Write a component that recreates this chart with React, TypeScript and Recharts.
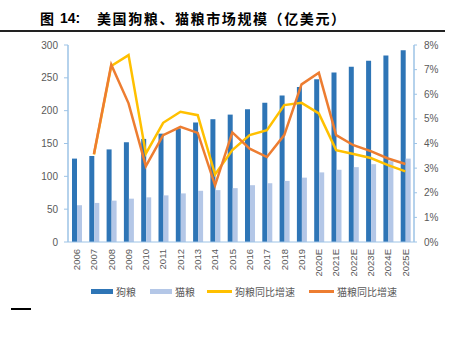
import React from 'react';
import { ComposedChart, Bar, Line, XAxis, YAxis, Legend } from 'recharts';

const years = ['2006','2007','2008','2009','2010','2011','2012','2013','2014','2015','2016','2017','2018','2019','2020E','2021E','2022E','2023E','2024E','2025E'];
const dogFood = [127,131,141,152,157,165,173,182,187,194,202,212,223,236,248,258,267,276,284,292];
const catFood = [56,59.5,63,66,68,71,74,78,79,82,86.5,89.5,93,98,106,110,114,118.5,123,127];
const dogGrowth = [null,3.55,7.15,7.59,3.59,4.84,5.29,5.15,2.74,3.73,4.34,4.54,5.56,5.65,5.22,3.73,3.57,3.41,3.12,2.87];
const catGrowth = [null,3.57,7.2,5.63,3.08,4.34,4.68,4.43,2.3,4.45,3.79,3.45,4.34,6.4,6.87,4.34,3.93,3.69,3.39,3.17];
const leftTicks = [0,50,100,150,200,250,300];
const rightTicks = [0,0.01,0.02,0.03,0.04,0.05,0.06,0.07,0.08];

const data = years.map((y, i) => ({
  year: y,
  dog: dogFood[i],
  cat: catFood[i],
  dogG: dogGrowth[i] == null ? null : (dogGrowth[i] as number) / 100,
  catG: catGrowth[i] == null ? null : (catGrowth[i] as number) / 100,
}));

const AXIS = '#9DC3E6';
const TXT = '#595959';
const FONT = '"Liberation Sans", Arial, sans-serif';
const CJK = '"Noto Sans CJK SC", sans-serif';

const XTick = (props: any) => {
  const { x, y, payload } = props;
  return (
    <text
      transform={`translate(${x},${y + 5}) rotate(-90)`}
      textAnchor="end"
      dy="0.35em"
      fill={TXT}
      fontSize={9.5}
      fontFamily={FONT}
    >
      {payload.value}
    </text>
  );
};

const LegendContent = () => {
  const items = [
    { name: '狗粮', color: '#2E75B6', type: 'bar', gap: 14 },
    { name: '猫粮', color: '#B4C7E7', type: 'bar', gap: 12 },
    { name: '狗粮同比增速', color: '#FFC000', type: 'line', gap: 14 },
    { name: '猫粮同比增速', color: '#ED7D31', type: 'line', gap: 0 },
  ];
  return (
    <div style={{ display: 'flex', justifyContent: 'flex-start', alignItems: 'center', paddingLeft: 91, fontFamily: CJK, fontSize: 10, color: TXT }}>
      {items.map((it) => (
        <div key={it.name} style={{ display: 'flex', alignItems: 'center', marginRight: it.gap }}>
          <div
            style={{
              width: it.type === 'bar' ? 22 : 25,
              height: it.type === 'bar' ? 5 : 2.5,
              background: it.color,
              marginRight: 3,
            }}
          />
          <span>{it.name}</span>
        </div>
      ))}
    </div>
  );
};

export default function App() {
  return (
    <div style={{ position: 'absolute', left: 0, top: 0, width: 450, height: 341, background: '#fff', overflow: 'hidden' }}>
      <div style={{ position: 'absolute', left: 40, top: 8, fontFamily: CJK, fontSize: 14, fontWeight: 700, color: '#000', lineHeight: '20px' }}>图</div>
      <div style={{ position: 'absolute', left: 60, top: 8, fontFamily: FONT, fontSize: 14, fontWeight: 700, color: '#000', lineHeight: '20px' }}>14:</div>
      <div style={{ position: 'absolute', left: 97, top: 8, fontFamily: CJK, fontSize: 14, fontWeight: 700, color: '#000', lineHeight: '20px', letterSpacing: 1.6, whiteSpace: 'nowrap' }}>美国狗粮、猫粮市场规模（亿美元）</div>
      <div style={{ position: 'absolute', left: 0, top: 30, width: 445, height: 2, background: '#222' }} />
      <div style={{ position: 'absolute', left: 11, top: 308, width: 20, height: 1.5, background: '#000' }} />
      <div style={{ position: 'absolute', left: 0, top: 0 }}>
        <ComposedChart
          width={450}
          height={341}
          data={data}
          margin={{ top: 45, right: 0, bottom: 0, left: 0 }}
          barGap={0}
        >
          <XAxis
            dataKey="year"
            height={99}
            interval={0}
            tick={<XTick />}
            tickLine={false}
            tickSize={0}
            axisLine={{ stroke: AXIS, strokeWidth: 1 }}
          />
          <YAxis
            yAxisId="left"
            orientation="left"
            width={68}
            domain={[0, 300]}
            ticks={leftTicks}
            interval={0}
            tickSize={4}
            tickMargin={6}
            tickLine={{ stroke: AXIS }}
            axisLine={{ stroke: AXIS, strokeWidth: 1.5 }}
            tick={{ fill: TXT, fontSize: 10, fontFamily: FONT }}
          />
          <YAxis
            yAxisId="right"
            orientation="right"
            width={36}
            domain={[0, 0.08]}
            ticks={rightTicks}
            interval={0}
            tickSize={3}
            tickMargin={7}
            tickLine={{ stroke: AXIS }}
            axisLine={{ stroke: AXIS, strokeWidth: 1.5 }}
            tick={{ fill: TXT, fontSize: 10, fontFamily: FONT }}
            tickFormatter={(v: number) => `${Math.round(v * 100)}%`}
          />
          <Legend
            content={<LegendContent />}
            layout="horizontal"
            verticalAlign="middle"
            align="center"
            wrapperStyle={{ top: 284, left: 0, width: 450, height: 16 }}
          />
          <Bar yAxisId="left" dataKey="dog" name="狗粮" fill="#2E75B6" barSize={5} isAnimationActive={false} />
          <Bar yAxisId="left" dataKey="cat" name="猫粮" fill="#B4C7E7" barSize={5} isAnimationActive={false} />
          <Line yAxisId="right" dataKey="dogG" name="狗粮同比增速" stroke="#FFC000" strokeWidth={2.5} dot={false} isAnimationActive={false} />
          <Line yAxisId="right" dataKey="catG" name="猫粮同比增速" stroke="#ED7D31" strokeWidth={2.5} dot={false} isAnimationActive={false} />
        </ComposedChart>
      </div>
    </div>
  );
}
